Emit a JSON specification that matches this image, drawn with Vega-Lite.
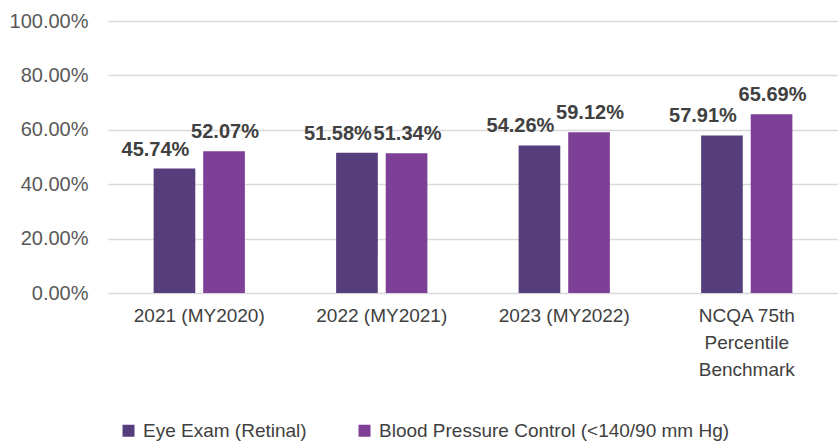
{
  "$schema": "https://vega.github.io/schema/vega-lite/v6.json",
  "width": 730,
  "height": 272,
  "autosize": {"type": "none"},
  "padding": {"left": 108, "top": 21, "right": 0, "bottom": 149},
  "background": "white",
  "data": {
    "values": [
      {"cat": "2021 (MY2020)", "measure": "Eye Exam (Retinal)", "value": 0.4574},
      {"cat": "2021 (MY2020)", "measure": "Blood Pressure Control (<140/90 mm Hg)", "value": 0.5207},
      {"cat": "2022 (MY2021)", "measure": "Eye Exam (Retinal)", "value": 0.5158},
      {"cat": "2022 (MY2021)", "measure": "Blood Pressure Control (<140/90 mm Hg)", "value": 0.5134},
      {"cat": "2023 (MY2022)", "measure": "Eye Exam (Retinal)", "value": 0.5426},
      {"cat": "2023 (MY2022)", "measure": "Blood Pressure Control (<140/90 mm Hg)", "value": 0.5912},
      {"cat": "NCQA 75th Percentile Benchmark", "measure": "Eye Exam (Retinal)", "value": 0.5791},
      {"cat": "NCQA 75th Percentile Benchmark", "measure": "Blood Pressure Control (<140/90 mm Hg)", "value": 0.6569}
    ]
  },
  "encoding": {
    "x": {
      "field": "cat", "type": "nominal", "sort": null,
      "scale": {"paddingInner": 0.5, "paddingOuter": 0.25},
      "axis": {
        "title": null, "labelAngle": 0, "domain": false, "ticks": false,
        "labelPadding": 13, "labelFont": "Liberation Sans", "labelFontSize": 19,
        "labelColor": "#404040", "labelLineHeight": 27,
        "labelExpr": "datum.label == 'NCQA 75th Percentile Benchmark' ? ['NCQA 75th', 'Percentile', 'Benchmark'] : datum.label"
      }
    },
    "xOffset": {
      "field": "measure", "type": "nominal",
      "sort": ["Eye Exam (Retinal)", "Blood Pressure Control (<140/90 mm Hg)"],
      "scale": {"paddingInner": 0.16}
    },
    "y": {
      "field": "value", "type": "quantitative",
      "scale": {"domain": [0, 1]},
      "axis": {
        "title": null, "format": ".2%", "tickCount": 5, "domain": false, "ticks": false,
        "labelPadding": 20, "labelFont": "Liberation Sans", "labelFontSize": 20,
        "labelColor": "#595959", "gridColor": "#d9d9d9", "gridWidth": 1.5
      }
    }
  },
  "layer": [
    {
      "mark": {"type": "bar"},
      "encoding": {
        "color": {
          "field": "measure", "type": "nominal",
          "sort": ["Eye Exam (Retinal)", "Blood Pressure Control (<140/90 mm Hg)"],
          "scale": {"range": ["#563d7c", "#7e3f96"]},
          "legend": {
            "title": null, "orient": "none", "direction": "horizontal",
            "legendX": 11, "legendY": 400,
            "symbolType": "square", "symbolSize": 144, "symbolStrokeWidth": 0,
            "labelFont": "Liberation Sans", "labelFontSize": 19, "labelColor": "#404040",
            "columnPadding": 48, "labelOffset": 5, "labelLimit": 500
          }
        }
      }
    },
    {
      "transform": [{"filter": "datum.measure == 'Eye Exam (Retinal)'"}],
      "mark": {
        "type": "text", "baseline": "alphabetic", "dy": -13, "dx": -19,
        "font": "Liberation Sans", "fontWeight": "bold", "fontSize": 20, "fill": "#404040"
      },
      "encoding": {
        "text": {"field": "value", "type": "quantitative", "format": ".2%"}
      }
    },
    {
      "transform": [{"filter": "datum.measure != 'Eye Exam (Retinal)'"}],
      "mark": {
        "type": "text", "baseline": "alphabetic", "dy": -13, "dx": 1,
        "font": "Liberation Sans", "fontWeight": "bold", "fontSize": 20, "fill": "#404040"
      },
      "encoding": {
        "text": {"field": "value", "type": "quantitative", "format": ".2%"}
      }
    }
  ],
  "config": {"view": {"stroke": null}}
}
